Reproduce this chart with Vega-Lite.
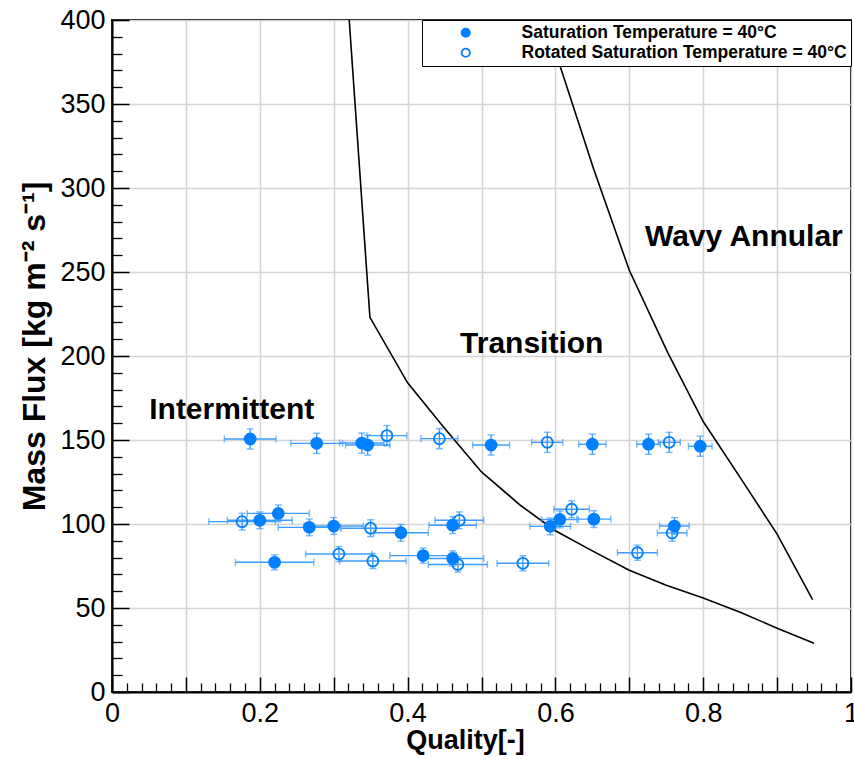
{
  "$schema": "https://vega.github.io/schema/vega-lite/v6.json",
  "width": 739,
  "height": 672,
  "autosize": "none",
  "padding": {"left": 112, "top": 20, "right": 3, "bottom": 67},
  "background": "white",
  "config": {
    "view": {"stroke": "black", "strokeWidth": 2},
    "font": "Liberation Sans",
    "legend": {"strokeWidth": 1}
  },
  "datasets": {
    "pts": [
      {"s": "Saturation Temperature = 40°C", "q": 0.187, "G": 150.6, "xlo": 0.152, "xhi": 0.222, "ylo": 144.6, "yhi": 156.6},
      {"s": "Saturation Temperature = 40°C", "q": 0.277, "G": 148.0, "xlo": 0.242, "xhi": 0.312, "ylo": 142.0, "yhi": 154.0},
      {"s": "Saturation Temperature = 40°C", "q": 0.338, "G": 148.2, "xlo": 0.308, "xhi": 0.368, "ylo": 142.2, "yhi": 154.2},
      {"s": "Saturation Temperature = 40°C", "q": 0.346, "G": 147.0, "xlo": 0.316, "xhi": 0.376, "ylo": 141.0, "yhi": 153.0},
      {"s": "Saturation Temperature = 40°C", "q": 0.513, "G": 147.0, "xlo": 0.488, "xhi": 0.538, "ylo": 141.0, "yhi": 153.0},
      {"s": "Saturation Temperature = 40°C", "q": 0.650, "G": 147.5, "xlo": 0.6315, "xhi": 0.6685, "ylo": 141.5, "yhi": 153.5},
      {"s": "Saturation Temperature = 40°C", "q": 0.726, "G": 147.5, "xlo": 0.710, "xhi": 0.742, "ylo": 141.5, "yhi": 153.5},
      {"s": "Saturation Temperature = 40°C", "q": 0.796, "G": 146.3, "xlo": 0.780, "xhi": 0.812, "ylo": 140.3, "yhi": 152.3},
      {"s": "Saturation Temperature = 40°C", "q": 0.200, "G": 102.2, "xlo": 0.156, "xhi": 0.244, "ylo": 97.2, "yhi": 107.2},
      {"s": "Saturation Temperature = 40°C", "q": 0.225, "G": 106.3, "xlo": 0.183, "xhi": 0.267, "ylo": 101.3, "yhi": 111.3},
      {"s": "Saturation Temperature = 40°C", "q": 0.267, "G": 98.0, "xlo": 0.225, "xhi": 0.309, "ylo": 93.0, "yhi": 103.0},
      {"s": "Saturation Temperature = 40°C", "q": 0.300, "G": 98.8, "xlo": 0.260, "xhi": 0.340, "ylo": 93.8, "yhi": 103.8},
      {"s": "Saturation Temperature = 40°C", "q": 0.391, "G": 94.8, "xlo": 0.354, "xhi": 0.428, "ylo": 89.8, "yhi": 99.8},
      {"s": "Saturation Temperature = 40°C", "q": 0.461, "G": 99.3, "xlo": 0.429, "xhi": 0.493, "ylo": 94.3, "yhi": 104.3},
      {"s": "Saturation Temperature = 40°C", "q": 0.593, "G": 98.6, "xlo": 0.5655, "xhi": 0.6205, "ylo": 93.6, "yhi": 103.6},
      {"s": "Saturation Temperature = 40°C", "q": 0.606, "G": 102.7, "xlo": 0.581, "xhi": 0.631, "ylo": 97.7, "yhi": 107.7},
      {"s": "Saturation Temperature = 40°C", "q": 0.652, "G": 102.9, "xlo": 0.629, "xhi": 0.675, "ylo": 97.9, "yhi": 107.9},
      {"s": "Saturation Temperature = 40°C", "q": 0.761, "G": 98.8, "xlo": 0.741, "xhi": 0.781, "ylo": 93.8, "yhi": 103.8},
      {"s": "Saturation Temperature = 40°C", "q": 0.220, "G": 77.2, "xlo": 0.167, "xhi": 0.273, "ylo": 72.7, "yhi": 81.7},
      {"s": "Saturation Temperature = 40°C", "q": 0.421, "G": 81.2, "xlo": 0.376, "xhi": 0.466, "ylo": 76.7, "yhi": 85.7},
      {"s": "Saturation Temperature = 40°C", "q": 0.461, "G": 79.5, "xlo": 0.419, "xhi": 0.503, "ylo": 75.0, "yhi": 84.0},
      {"s": "Rotated Saturation Temperature = 40°C", "q": 0.372, "G": 152.6, "xlo": 0.345, "xhi": 0.399, "ylo": 146.6, "yhi": 158.6},
      {"s": "Rotated Saturation Temperature = 40°C", "q": 0.443, "G": 150.8, "xlo": 0.418, "xhi": 0.468, "ylo": 144.8, "yhi": 156.8},
      {"s": "Rotated Saturation Temperature = 40°C", "q": 0.589, "G": 148.6, "xlo": 0.568, "xhi": 0.610, "ylo": 142.6, "yhi": 154.6},
      {"s": "Rotated Saturation Temperature = 40°C", "q": 0.754, "G": 148.6, "xlo": 0.739, "xhi": 0.769, "ylo": 142.6, "yhi": 154.6},
      {"s": "Rotated Saturation Temperature = 40°C", "q": 0.176, "G": 101.4, "xlo": 0.131, "xhi": 0.221, "ylo": 96.4, "yhi": 106.4},
      {"s": "Rotated Saturation Temperature = 40°C", "q": 0.350, "G": 97.5, "xlo": 0.310, "xhi": 0.390, "ylo": 92.5, "yhi": 102.5},
      {"s": "Rotated Saturation Temperature = 40°C", "q": 0.470, "G": 102.2, "xlo": 0.437, "xhi": 0.503, "ylo": 97.2, "yhi": 107.2},
      {"s": "Rotated Saturation Temperature = 40°C", "q": 0.622, "G": 108.8, "xlo": 0.598, "xhi": 0.646, "ylo": 103.8, "yhi": 113.8},
      {"s": "Rotated Saturation Temperature = 40°C", "q": 0.758, "G": 94.7, "xlo": 0.738, "xhi": 0.778, "ylo": 89.7, "yhi": 99.7},
      {"s": "Rotated Saturation Temperature = 40°C", "q": 0.307, "G": 82.1, "xlo": 0.262, "xhi": 0.352, "ylo": 77.6, "yhi": 86.6},
      {"s": "Rotated Saturation Temperature = 40°C", "q": 0.353, "G": 78.0, "xlo": 0.308, "xhi": 0.398, "ylo": 73.5, "yhi": 82.5},
      {"s": "Rotated Saturation Temperature = 40°C", "q": 0.468, "G": 75.9, "xlo": 0.428, "xhi": 0.508, "ylo": 71.4, "yhi": 80.4},
      {"s": "Rotated Saturation Temperature = 40°C", "q": 0.556, "G": 76.6, "xlo": 0.521, "xhi": 0.591, "ylo": 72.1, "yhi": 81.1},
      {"s": "Rotated Saturation Temperature = 40°C", "q": 0.711, "G": 82.9, "xlo": 0.684, "xhi": 0.738, "ylo": 78.4, "yhi": 87.4}
    ],
    "curves": [
      {"c": "left", "q": 0.321, "G": 400},
      {"c": "left", "q": 0.349, "G": 223},
      {"c": "left", "q": 0.400, "G": 184},
      {"c": "left", "q": 0.450, "G": 157},
      {"c": "left", "q": 0.500, "G": 131},
      {"c": "left", "q": 0.553, "G": 111},
      {"c": "left", "q": 0.600, "G": 96},
      {"c": "left", "q": 0.650, "G": 84},
      {"c": "left", "q": 0.700, "G": 72.5},
      {"c": "left", "q": 0.750, "G": 63.5},
      {"c": "left", "q": 0.800, "G": 56},
      {"c": "left", "q": 0.850, "G": 47.5},
      {"c": "left", "q": 0.900, "G": 38},
      {"c": "left", "q": 0.950, "G": 29},
      {"c": "right", "q": 0.586, "G": 400},
      {"c": "right", "q": 0.652, "G": 311},
      {"c": "right", "q": 0.700, "G": 251},
      {"c": "right", "q": 0.752, "G": 202},
      {"c": "right", "q": 0.800, "G": 161},
      {"c": "right", "q": 0.851, "G": 127},
      {"c": "right", "q": 0.900, "G": 94},
      {"c": "right", "q": 0.948, "G": 55}
    ],
    "labels": [
      {"label": "Intermittent", "q": 0.162, "G": 168},
      {"label": "Transition", "q": 0.568, "G": 207},
      {"label": "Wavy Annular", "q": 0.855, "G": 271}
    ]
  },
  "resolve": {"axis": {"x": "independent", "y": "independent"}},
  "layer": [
    {
      "data": {"name": "curves"},
      "mark": {"type": "line", "color": "black", "strokeWidth": 1.6, "clip": true},
      "encoding": {
        "x": {
          "field": "q", "type": "quantitative",
          "scale": {"domain": [0, 1], "nice": false, "zero": false},
          "axis": {
            "orient": "bottom",
            "values": [0, 0.1, 0.2, 0.3, 0.4, 0.5, 0.6, 0.7, 0.8, 0.9, 1],
            "grid": true, "gridColor": "#d4d4d4", "gridWidth": 1.5,
            "ticks": false,
            "domain": true, "domainColor": "black", "domainWidth": 2,
            "labelExpr": "abs(round(datum.value*10) % 2) == 0 ? format(datum.value, '~g') : ''",
            "labelFont": "Liberation Sans", "labelFontSize": 27, "labelColor": "black",
            "labelPadding": 8, "labelFlush": false, "labelOverlap": false, "labelBound": false,
            "title": "Quality[-]", "titleFont": "Liberation Sans", "titleFontSize": 27,
            "titleFontWeight": "bold", "titleColor": "black", "titlePadding": 1,
            "titleX": 353, "titleAnchor": "start", "titleAlign": "center"
          }
        },
        "y": {
          "field": "G", "type": "quantitative",
          "scale": {"domain": [0, 400], "nice": false, "zero": false},
          "axis": {
            "orient": "left",
            "values": [0, 50, 100, 150, 200, 250, 300, 350, 400],
            "grid": true, "gridColor": "#d4d4d4", "gridWidth": 1.5,
            "ticks": false,
            "domain": true, "domainColor": "black", "domainWidth": 2,
            "labelFont": "Liberation Sans", "labelFontSize": 27, "labelColor": "black",
            "labelPadding": 7, "labelOverlap": false, "labelBound": false, "labelFlush": false,
            "title": "Mass Flux [kg m⁻² s⁻¹]", "titleFont": "Liberation Sans", "titleFontSize": 32,
            "titleFontWeight": "bold", "titleColor": "black", "titlePadding": 8,
            "titleY": 326, "titleAnchor": "start", "titleAlign": "center"
          }
        },
        "detail": {"field": "c", "type": "nominal"}
      }
    },
    {
      "data": {"name": "labels"},
      "mark": {"type": "text", "font": "Liberation Sans", "fontSize": 30, "fontWeight": "bold", "color": "black", "align": "center", "baseline": "middle"},
      "encoding": {
        "x": {
          "field": "q", "type": "quantitative",
          "axis": {
            "orient": "bottom",
            "values": [0, 0.1, 0.2, 0.3, 0.4, 0.5, 0.6, 0.7, 0.8, 0.9, 1],
            "ticks": true, "tickSize": -15, "tickColor": "black", "tickWidth": 1.5,
            "labels": false, "grid": false, "domain": false, "title": null
          }
        },
        "y": {
          "field": "G", "type": "quantitative",
          "axis": {
            "orient": "left",
            "values": [0, 50, 100, 150, 200, 250, 300, 350, 400],
            "ticks": true, "tickSize": -17, "tickColor": "black", "tickWidth": 1.5,
            "labels": false, "grid": false, "domain": false, "title": null
          }
        },
        "text": {"field": "label", "type": "nominal"}
      }
    },
    {
      "data": {"name": "pts"},
      "mark": {"type": "rule", "color": "#3d9cff", "strokeWidth": 1.4},
      "encoding": {
        "x": {"field": "xlo", "type": "quantitative", "axis": null},
        "x2": {"field": "xhi"},
        "y": {"field": "G", "type": "quantitative", "axis": null}
      }
    },
    {
      "data": {"name": "pts"},
      "mark": {"type": "rule", "color": "#3d9cff", "strokeWidth": 1.4},
      "encoding": {
        "x": {"field": "q", "type": "quantitative", "axis": null},
        "y": {"field": "ylo", "type": "quantitative", "axis": null},
        "y2": {"field": "yhi"}
      }
    },
    {
      "data": {"name": "pts"},
      "mark": {"type": "tick", "orient": "vertical", "size": 7, "thickness": 1.4, "color": "#3d9cff"},
      "encoding": {
        "x": {"field": "xlo", "type": "quantitative", "axis": null},
        "y": {"field": "G", "type": "quantitative", "axis": null}
      }
    },
    {
      "data": {"name": "pts"},
      "mark": {"type": "tick", "orient": "vertical", "size": 7, "thickness": 1.4, "color": "#3d9cff"},
      "encoding": {
        "x": {"field": "xhi", "type": "quantitative", "axis": null},
        "y": {"field": "G", "type": "quantitative", "axis": null}
      }
    },
    {
      "data": {"name": "pts"},
      "mark": {"type": "tick", "orient": "horizontal", "size": 7, "thickness": 1.4, "color": "#3d9cff"},
      "encoding": {
        "x": {"field": "q", "type": "quantitative", "axis": null},
        "y": {"field": "ylo", "type": "quantitative", "axis": null}
      }
    },
    {
      "data": {"name": "pts"},
      "mark": {"type": "tick", "orient": "horizontal", "size": 7, "thickness": 1.4, "color": "#3d9cff"},
      "encoding": {
        "x": {"field": "q", "type": "quantitative", "axis": null},
        "y": {"field": "yhi", "type": "quantitative", "axis": null}
      }
    },
    {
      "data": {"name": "pts"},
      "mark": {"type": "point", "filled": true, "shape": "circle", "size": 120, "stroke": "#0080ff", "strokeWidth": 1.8, "opacity": 1},
      "encoding": {
        "x": {
          "field": "q", "type": "quantitative",
          "axis": {
            "orient": "bottom",
            "values": [0.02, 0.04, 0.06, 0.08, 0.12, 0.14, 0.16, 0.18, 0.22, 0.24, 0.26, 0.28, 0.32, 0.34, 0.36, 0.38, 0.42, 0.44, 0.46, 0.48, 0.52, 0.54, 0.56, 0.58, 0.62, 0.64, 0.66, 0.68, 0.72, 0.74, 0.76, 0.78, 0.82, 0.84, 0.86, 0.88, 0.92, 0.94, 0.96, 0.98],
            "ticks": true, "tickSize": -9, "tickColor": "black", "tickWidth": 1.3,
            "labels": false, "grid": false, "domain": false, "title": null
          }
        },
        "y": {
          "field": "G", "type": "quantitative",
          "axis": {
            "orient": "left",
            "values": [10, 20, 30, 40, 60, 70, 80, 90, 110, 120, 130, 140, 160, 170, 180, 190, 210, 220, 230, 240, 260, 270, 280, 290, 310, 320, 330, 340, 360, 370, 380, 390],
            "ticks": true, "tickSize": -10, "tickColor": "black", "tickWidth": 1.3,
            "labels": false, "grid": false, "domain": false, "title": null
          }
        },
        "fill": {
          "field": "s", "type": "nominal",
          "scale": {
            "domain": ["Saturation Temperature = 40°C", "Rotated Saturation Temperature = 40°C"],
            "range": ["#0080ff", "transparent"]
          },
          "legend": {
            "orient": "top-right", "offset": 0, "title": null,
            "strokeColor": "black", "fillColor": "white",
            "padding": 4, "rowPadding": 1, "cornerRadius": 0,
            "labelFont": "Liberation Sans", "labelFontSize": 17.5, "labelFontWeight": "bold", "labelColor": "black",
            "labelOffset": 47, "symbolOffset": 31,
            "symbolType": "circle", "symbolSize": 70,
            "symbolStrokeColor": "#0080ff", "symbolStrokeWidth": 1.8,
            "labelLimit": 600
          }
        }
      }
    }
  ]
}
